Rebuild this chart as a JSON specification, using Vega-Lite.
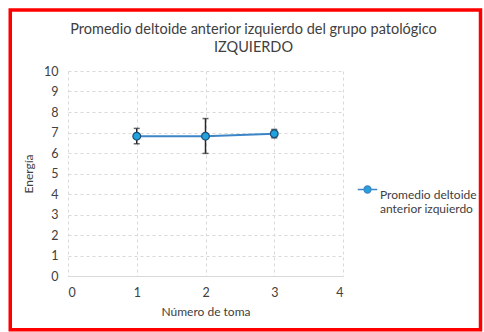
{
  "$schema": "https://vega.github.io/schema/vega-lite/v6.json",
  "width": 275,
  "height": 205,
  "autosize": {"type": "none"},
  "padding": {"left": 68, "top": 71, "right": 141, "bottom": 56},
  "background": "white",
  "title": {
    "text": ["Promedio deltoide anterior izquierdo del grupo patológico", "IZQUIERDO"],
    "font": "Lato",
    "fontSize": 14.5,
    "fontWeight": "normal",
    "color": "#404040",
    "anchor": "middle",
    "dx": 48,
    "dy": 59,
    "offset": 12,
    "lineHeight": 18
  },
  "config": {
    "view": {"stroke": null},
    "font": "Lato",
    "axis": {
      "labelFont": "Lato",
      "titleFont": "Lato",
      "labelFontSize": 12.5,
      "titleFontSize": 12,
      "titleFontWeight": "normal",
      "labelColor": "#404040",
      "titleColor": "#404040",
      "gridColor": "#d9d9d9",
      "gridDash": [3, 3],
      "ticks": false
    },
    "legend": {"labelFont": "Lato", "labelFontSize": 12, "labelColor": "#404040"}
  },
  "data": {
    "values": [
      {"toma": 1, "media": 6.82, "lo": 6.45, "hi": 7.2, "serie": "Promedio deltoide anterior izquierdo"},
      {"toma": 2, "media": 6.82, "lo": 5.98, "hi": 7.68, "serie": "Promedio deltoide anterior izquierdo"},
      {"toma": 3, "media": 6.94, "lo": 6.74, "hi": 7.15, "serie": "Promedio deltoide anterior izquierdo"}
    ]
  },
  "layer": [
    {
      "mark": {"type": "line", "strokeWidth": 2},
      "encoding": {
        "x": {
          "field": "toma",
          "type": "quantitative",
          "scale": {"domain": [0, 4], "nice": false, "zero": false},
          "axis": {
            "title": "Número de toma",
            "values": [0, 1, 2, 3, 4],
            "tickCount": 12,
            "format": "d",
            "labelPadding": 10,
            "titlePadding": 8,
            "domainColor": "#d9d9d9",
            "domainWidth": 1,
            "grid": true
          }
        },
        "y": {
          "field": "media",
          "type": "quantitative",
          "scale": {"domain": [0, 10], "nice": false},
          "axis": {
            "title": "Energía",
            "values": [0, 1, 2, 3, 4, 5, 6, 7, 8, 9, 10],
            "tickCount": 12,
            "labelOverlap": false,
            "format": "d",
            "labelPadding": 10,
            "titlePadding": 8,
            "domain": false,
            "grid": true
          }
        },
        "color": {
          "field": "serie",
          "type": "nominal",
          "scale": {"range": ["#3c86c8"]},
          "legend": {
            "title": null,
            "orient": "none",
            "legendX": 289,
            "legendY": 108,
            "labelExpr": "['Promedio deltoide', 'anterior izquierdo']",
            "labelBaseline": "top",
            "labelOffset": 2,
            "symbolType": "M-1,0H-0.35 M0.35,0H1 M-0.35,0A0.35,0.35 0 1,1 0.35,0A0.35,0.35 0 1,1 -0.35,0",
            "symbolSize": 380,
            "symbolFillColor": "#22a3dc",
            "symbolStrokeColor": "#2a6aa8",
            "symbolStrokeWidth": 1.5
          }
        }
      }
    },
    {
      "mark": {"type": "rule", "color": "#262626", "strokeWidth": 1.5},
      "encoding": {
        "x": {"field": "toma", "type": "quantitative"},
        "y": {"field": "lo", "type": "quantitative"},
        "y2": {"field": "hi"}
      }
    },
    {
      "mark": {"type": "tick", "orient": "horizontal", "color": "#262626", "size": 6, "thickness": 1.5},
      "encoding": {
        "x": {"field": "toma", "type": "quantitative"},
        "y": {"field": "hi", "type": "quantitative"}
      }
    },
    {
      "mark": {"type": "tick", "orient": "horizontal", "color": "#262626", "size": 6, "thickness": 1.5},
      "encoding": {
        "x": {"field": "toma", "type": "quantitative"},
        "y": {"field": "lo", "type": "quantitative"}
      }
    },
    {
      "mark": {"type": "point", "filled": true, "size": 60, "fill": "#22a3dc", "stroke": "#1f4e79", "strokeWidth": 1.2, "opacity": 1},
      "encoding": {
        "x": {"field": "toma", "type": "quantitative"},
        "y": {"field": "media", "type": "quantitative"}
      }
    },
    {
      "data": {"values": [{"a": 1}]},
      "mark": {"type": "rect", "fill": null, "stroke": "#ff0000", "strokeWidth": 3.5, "clip": false},
      "encoding": {
        "x": {"datum": -0.84, "type": "quantitative"},
        "x2": {"datum": 6.0},
        "y": {"datum": 12.98, "type": "quantitative"},
        "y2": {"datum": -2.62}
      }
    }
  ]
}
